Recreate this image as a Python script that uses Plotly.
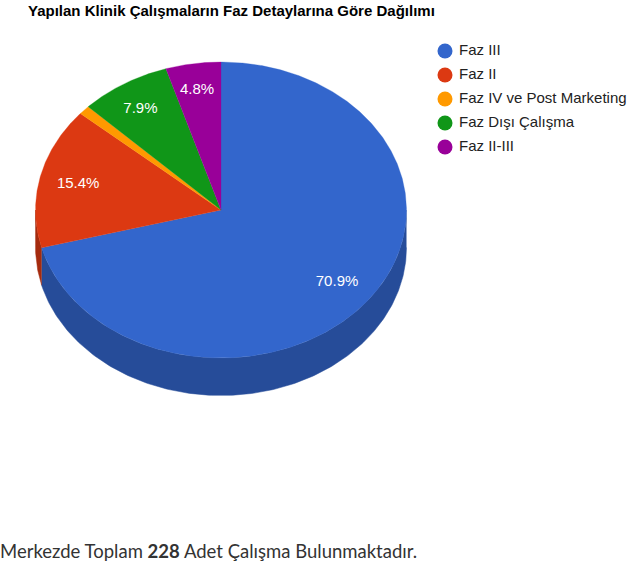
import numpy as np
import plotly.graph_objects as go

# Data
categories = ["Faz III", "Faz II", "Faz IV ve Post Marketing", "Faz Dışı Çalışma", "Faz II-III"]
percentages = [70.9, 15.4, 1.0, 7.9, 4.8]
slice_labels = ["70.9%", "15.4%", "", "7.9%", "4.8%"]
title_text = "Yapılan Klinik Çalışmaların Faz Detaylarına Göre Dağılımı"
footer_text = "Merkezde Toplam <b>228</b> Adet Çalışma Bulunmaktadır."

# Style
W, H = 633, 569
top_colors = ["#3366cc", "#dc3912", "#ff9900", "#109618", "#990099"]
side_colors = ["#264c99", "#a52b0e", "#bf7300", "#0c7012", "#730073"]
CX, CY, RX, RY, DEPTH = 221, 210, 185.5, 148, 37.5
LABEL_FRAC = 0.79
LABEL_NUDGE_X = [0, 0, 0, -4, -2]
LABEL_NUDGE_Y = [1, 0.5, 0, -1, -4]
LEGEND_X, LEGEND_TEXT_X, LEGEND_Y0, LEGEND_STEP = 445, 459, 51, 24

def ellipse(theta):
    t = np.radians(theta)
    return CX + RX * np.sin(t), CY - RY * np.cos(t)

fig = go.Figure()
edges = np.concatenate([[0], np.cumsum(percentages)]) * 3.6

# Walls of the 3D pie (only the front half, 90..270 degrees, is visible)
for i, color in enumerate(side_colors):
    a, b = max(edges[i], 90), min(edges[i + 1], 270)
    if b <= a:
        continue
    th = np.linspace(a, b, 200)
    x, y = ellipse(th)
    fig.add_trace(go.Scatter(
        x=np.r_[x, x[::-1]], y=np.r_[y + DEPTH, y[::-1]],
        mode="lines", fill="toself", fillcolor=color, line=dict(color=color, width=0.5),
        hoverinfo="skip", showlegend=False))

# Top faces
for i, color in enumerate(top_colors):
    th = np.linspace(edges[i], edges[i + 1], max(int(edges[i + 1] - edges[i]) * 3, 12))
    x, y = ellipse(th)
    fig.add_trace(go.Scatter(
        x=np.r_[CX, x, CX], y=np.r_[CY, y, CY],
        mode="lines", fill="toself", fillcolor=color, line=dict(color=color, width=0.3),
        name=categories[i], hoverinfo="name", showlegend=False))

# Percentage labels
mid = (edges[:-1] + edges[1:]) / 2
lx = CX + LABEL_FRAC * RX * np.sin(np.radians(mid)) + np.array(LABEL_NUDGE_X)
ly = CY - LABEL_FRAC * RY * np.cos(np.radians(mid)) + np.array(LABEL_NUDGE_Y)
fig.add_trace(go.Scatter(
    x=lx, y=ly, mode="text", text=slice_labels, textposition="middle center",
    textfont=dict(family="Liberation Sans, Arial", size=15, color="white"),
    hoverinfo="skip", showlegend=False))

# Legend
ly2 = [LEGEND_Y0 + LEGEND_STEP * i for i in range(len(categories))]
fig.add_trace(go.Scatter(
    x=[LEGEND_X] * len(categories), y=ly2, mode="markers",
    marker=dict(size=15, color=top_colors, line=dict(width=0)),
    hoverinfo="skip", showlegend=False))
fig.add_trace(go.Scatter(
    x=[LEGEND_TEXT_X] * len(categories), y=[v + 0.5 for v in ly2], mode="text",
    text=categories, textposition="middle right",
    textfont=dict(family="Liberation Sans, Arial", size=15, color="#222222"),
    hoverinfo="skip", showlegend=False))

fig.update_layout(
    width=W, height=H, autosize=False,
    margin=dict(l=0, r=0, t=0, b=0),
    paper_bgcolor="white", plot_bgcolor="white",
    xaxis=dict(range=[0, W], visible=False, fixedrange=True),
    yaxis=dict(range=[H, 0], visible=False, fixedrange=True),
    showlegend=False,
    title=dict(text=f"<b>{title_text}</b>", x=28 / W, xanchor="left", y=1 - 10.5 / H, yanchor="middle",
               font=dict(family="Liberation Sans, Arial", size=15, color="#000000")),
    annotations=[dict(text=footer_text, xref="paper", yref="paper", x=0, y=1 - 551 / H,
                      xanchor="left", yanchor="middle", showarrow=False, xshift=-2,
                      font=dict(family="Lato", size=18.5, color="#333333"))],
)
fig.write_html("out.html", config=dict(displayModeBar=False),
               post_script="document.body.style.margin='0';document.documentElement.style.overflow='hidden';")
